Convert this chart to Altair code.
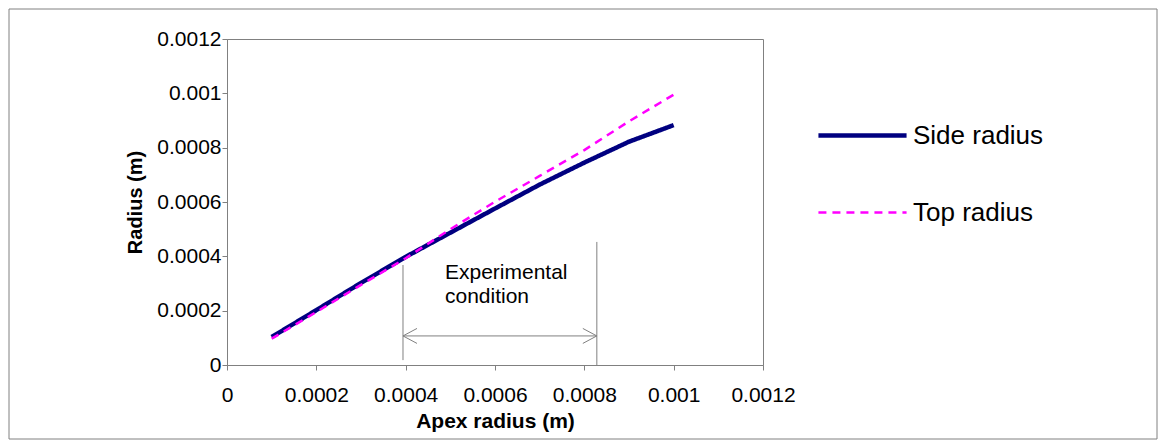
import altair as alt
import pandas as pd

# ---- data ----
apex = [0.0001, 0.0002, 0.0003, 0.0004, 0.0005, 0.0006, 0.0007, 0.0008, 0.0009, 0.001]
side_radius = [0.000103, 0.000202, 0.000302, 0.000398, 0.000487, 0.000576, 0.000664, 0.000745, 0.000822, 0.000883]
top_radius = [0.000097, 0.000195, 0.000295, 0.000393, 0.000500, 0.000601, 0.000696, 0.000791, 0.000897, 0.000995]
series_names = ["Side radius", "Top radius"]
tick_values = [0, 0.0002, 0.0004, 0.0006, 0.0008, 0.001, 0.0012]

# experimental-condition annotation (data units)
exp_lo, exp_hi = 0.000394, 0.000828
exp_lo_y = [0.000018, 0.000368]
exp_hi_y = [0.0, 0.000453]
arrow_y = 0.000107
exp_text = ["Experimental", "condition"]
exp_text_x, exp_text_y = 0.000488, 0.000339

FONT = "Liberation Sans"
GRAY = "#808080"

rows = []
for a, s, t in zip(apex, side_radius, top_radius):
    rows.append({"apex": a, "radius": s, "series": series_names[0]})
    rows.append({"apex": a, "radius": t, "series": series_names[1]})
df = pd.DataFrame(rows)

xscale = alt.Scale(domain=[0, 0.0012], nice=False, zero=True)
yscale = alt.Scale(domain=[0, 0.0012], nice=False, zero=True)

legend = alt.Legend(
    title=None, orient="none", legendX=594, legendY=55,
    symbolType="M-1.13,0L1.13,0", symbolSize=6084,
    labelFontSize=26, labelFont=FONT, labelColor="black",
    labelOffset=9, rowPadding=23, padding=0,
)

lines = alt.Chart(df).mark_line().encode(
    x=alt.X("apex:Q", scale=xscale, axis=alt.Axis(
        values=tick_values, format="~g", title="Apex radius (m)",
        titleY=56, titleBaseline="middle", labelPadding=14,
        labelOverlap=False, labelFlush=False)),
    y=alt.Y("radius:Q", scale=yscale, axis=alt.Axis(
        values=tick_values, format="~g", title="Radius (m)",
        titleX=-92, titleY=163, titleAngle=270, titleAlign="center",
        titleBaseline="middle", labelPadding=1, titleFontSize=20,
        labelOverlap=False, labelFlush=False)),
    color=alt.Color("series:N", scale=alt.Scale(domain=series_names, range=["#000080", "#FF00FF"]), legend=legend),
    strokeDash=alt.StrokeDash("series:N", scale=alt.Scale(domain=series_names, range=[[1, 0], [8, 6]]), legend=legend),
    strokeWidth=alt.StrokeWidth("series:N", scale=alt.Scale(type="ordinal", domain=series_names, range=[4.5, 2.5]), legend=legend),
    order=alt.Order("apex:Q"),
)

vlines_df = pd.DataFrame({
    "x": [exp_lo, exp_hi],
    "y": [exp_lo_y[0], exp_hi_y[0]],
    "y2": [exp_lo_y[1], exp_hi_y[1]],
})
vlines = alt.Chart(vlines_df).mark_rule(color=GRAY, strokeWidth=1).encode(
    x=alt.X("x:Q", scale=xscale), y=alt.Y("y:Q", scale=yscale), y2="y2:Q")

arrow_df = pd.DataFrame({"x": [exp_lo], "x2": [exp_hi], "y": [arrow_y]})
arrow = alt.Chart(arrow_df).mark_rule(color=GRAY, strokeWidth=1).encode(
    x=alt.X("x:Q", scale=xscale), x2="x2:Q", y=alt.Y("y:Q", scale=yscale))

head_l = alt.Chart(pd.DataFrame({"x": [exp_lo], "y": [arrow_y]})).mark_point(
    shape="M 2 -1.07 L 0 0 L 2 1.07", size=196, filled=False, stroke=GRAY, strokeWidth=1, opacity=1
).encode(x=alt.X("x:Q", scale=xscale), y=alt.Y("y:Q", scale=yscale))
head_r = alt.Chart(pd.DataFrame({"x": [exp_hi], "y": [arrow_y]})).mark_point(
    shape="M -2 -1.07 L 0 0 L -2 1.07", size=196, filled=False, stroke=GRAY, strokeWidth=1, opacity=1
).encode(x=alt.X("x:Q", scale=xscale), y=alt.Y("y:Q", scale=yscale))

label = alt.Chart(pd.DataFrame({"x": [exp_text_x], "y": [exp_text_y]})).mark_text(
    text=exp_text, align="left", baseline="middle", font=FONT, fontSize=21,
    lineHeight=24, color="black"
).encode(x=alt.X("x:Q", scale=xscale), y=alt.Y("y:Q", scale=yscale))

frame = alt.Chart(pd.DataFrame({"a": [0]})).mark_rect(
    filled=False, stroke=GRAY, strokeWidth=1
).encode(x=alt.value(-218), x2=alt.value(930), y=alt.value(-30), y2=alt.value(400))

chart = alt.layer(frame, vlines, arrow, head_l, head_r, label, lines).properties(
    width=536, height=326,
    background="white",
    autosize=alt.AutoSizeParams(type="none"),
    padding={"left": 219, "top": 31, "right": 395, "bottom": 76},
).configure_view(stroke=GRAY, strokeWidth=1).configure_axis(
    grid=False, domainColor=GRAY, tickColor=GRAY, tickSize=5,
    labelFont=FONT, labelFontSize=21, labelColor="black",
    titleFont=FONT, titleFontSize=21, titleFontWeight="bold", titleColor="black",
)

chart.save("out.html", embed_options={"renderer": "svg", "actions": False})
